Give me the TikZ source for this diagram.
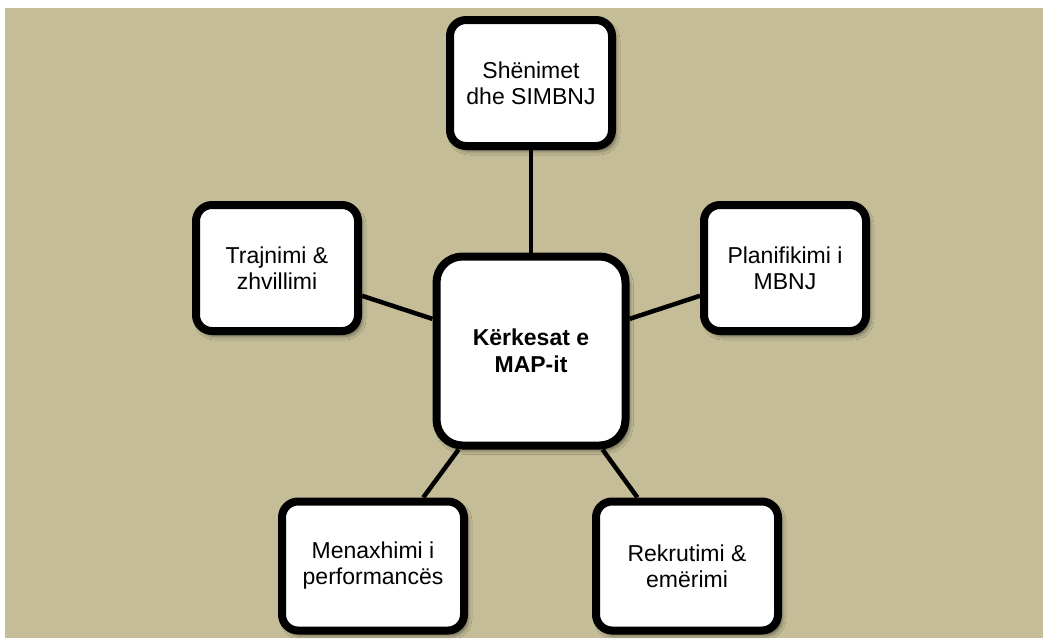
\documentclass[tikz,border=0pt]{standalone}
\usepackage{fontspec}
\setmainfont{Liberation Sans}
\usetikzlibrary{shadows.blur}

\definecolor{tanbg}{RGB}{196,189,151}

\begin{document}
\begin{tikzpicture}[
        x=1pt, y=-1pt,
        every node/.style={font=\fontsize{23}{26}\selectfont},
        % Box Styles
        basebox/.style={
            rectangle,
            draw=black,
            fill=white,
            line width=8pt,
            align=center,
            inner sep=0pt,
            blur shadow={shadow xshift=3pt, shadow yshift=-4pt,
                shadow blur radius=5pt, shadow opacity=65}
        },
        leafbox/.style={
            basebox,
            rounded corners=16pt,
            minimum width=162pt,
            minimum height=126pt
        },
        widebox/.style={
            leafbox,
            minimum width=182pt,
            minimum height=129pt
        },
        hubbox/.style={
            basebox,
            rounded corners=26pt,
            minimum width=189pt,
            minimum height=189pt,
            font=\fontsize{23}{27}\selectfont\bfseries
        },
        % Connector Styles
        link/.style={line width=4.5pt, draw=black}
    ]

    % --- Frame ---
    \useasboundingbox (0,0) rectangle (1043,638);
    \fill[tanbg] (5,8) rectangle (1043,638);

    % --- Centre ---
    \node[hubbox] (hub) at (531, 351) {K\"erkesat e\\MAP-it};

    % --- Surrounding Areas ---
    \node[leafbox] (notes) at (531, 83)  {Sh\"enimet\\dhe SIMBNJ};
    \node[leafbox] (train) at (277, 268) {Trajnimi \&\\zhvillimi};
    \node[leafbox] (plan)  at (785, 268) {Planifikimi i\\MBNJ};
    \node[widebox] (perf)  at (373, 566) {Menaxhimi i\\performanc\"es};
    \node[widebox] (recr)  at (687, 566) {Rekrutimi \&\\em\"erimi};

    % --- Connections ---
    \draw[link] (hub) -- (notes);
    \draw[link] (hub) -- (train);
    \draw[link] (hub) -- (plan);
    \draw[link] (hub) -- (perf);
    \draw[link] (hub) -- (recr);

\end{tikzpicture}
\end{document}
